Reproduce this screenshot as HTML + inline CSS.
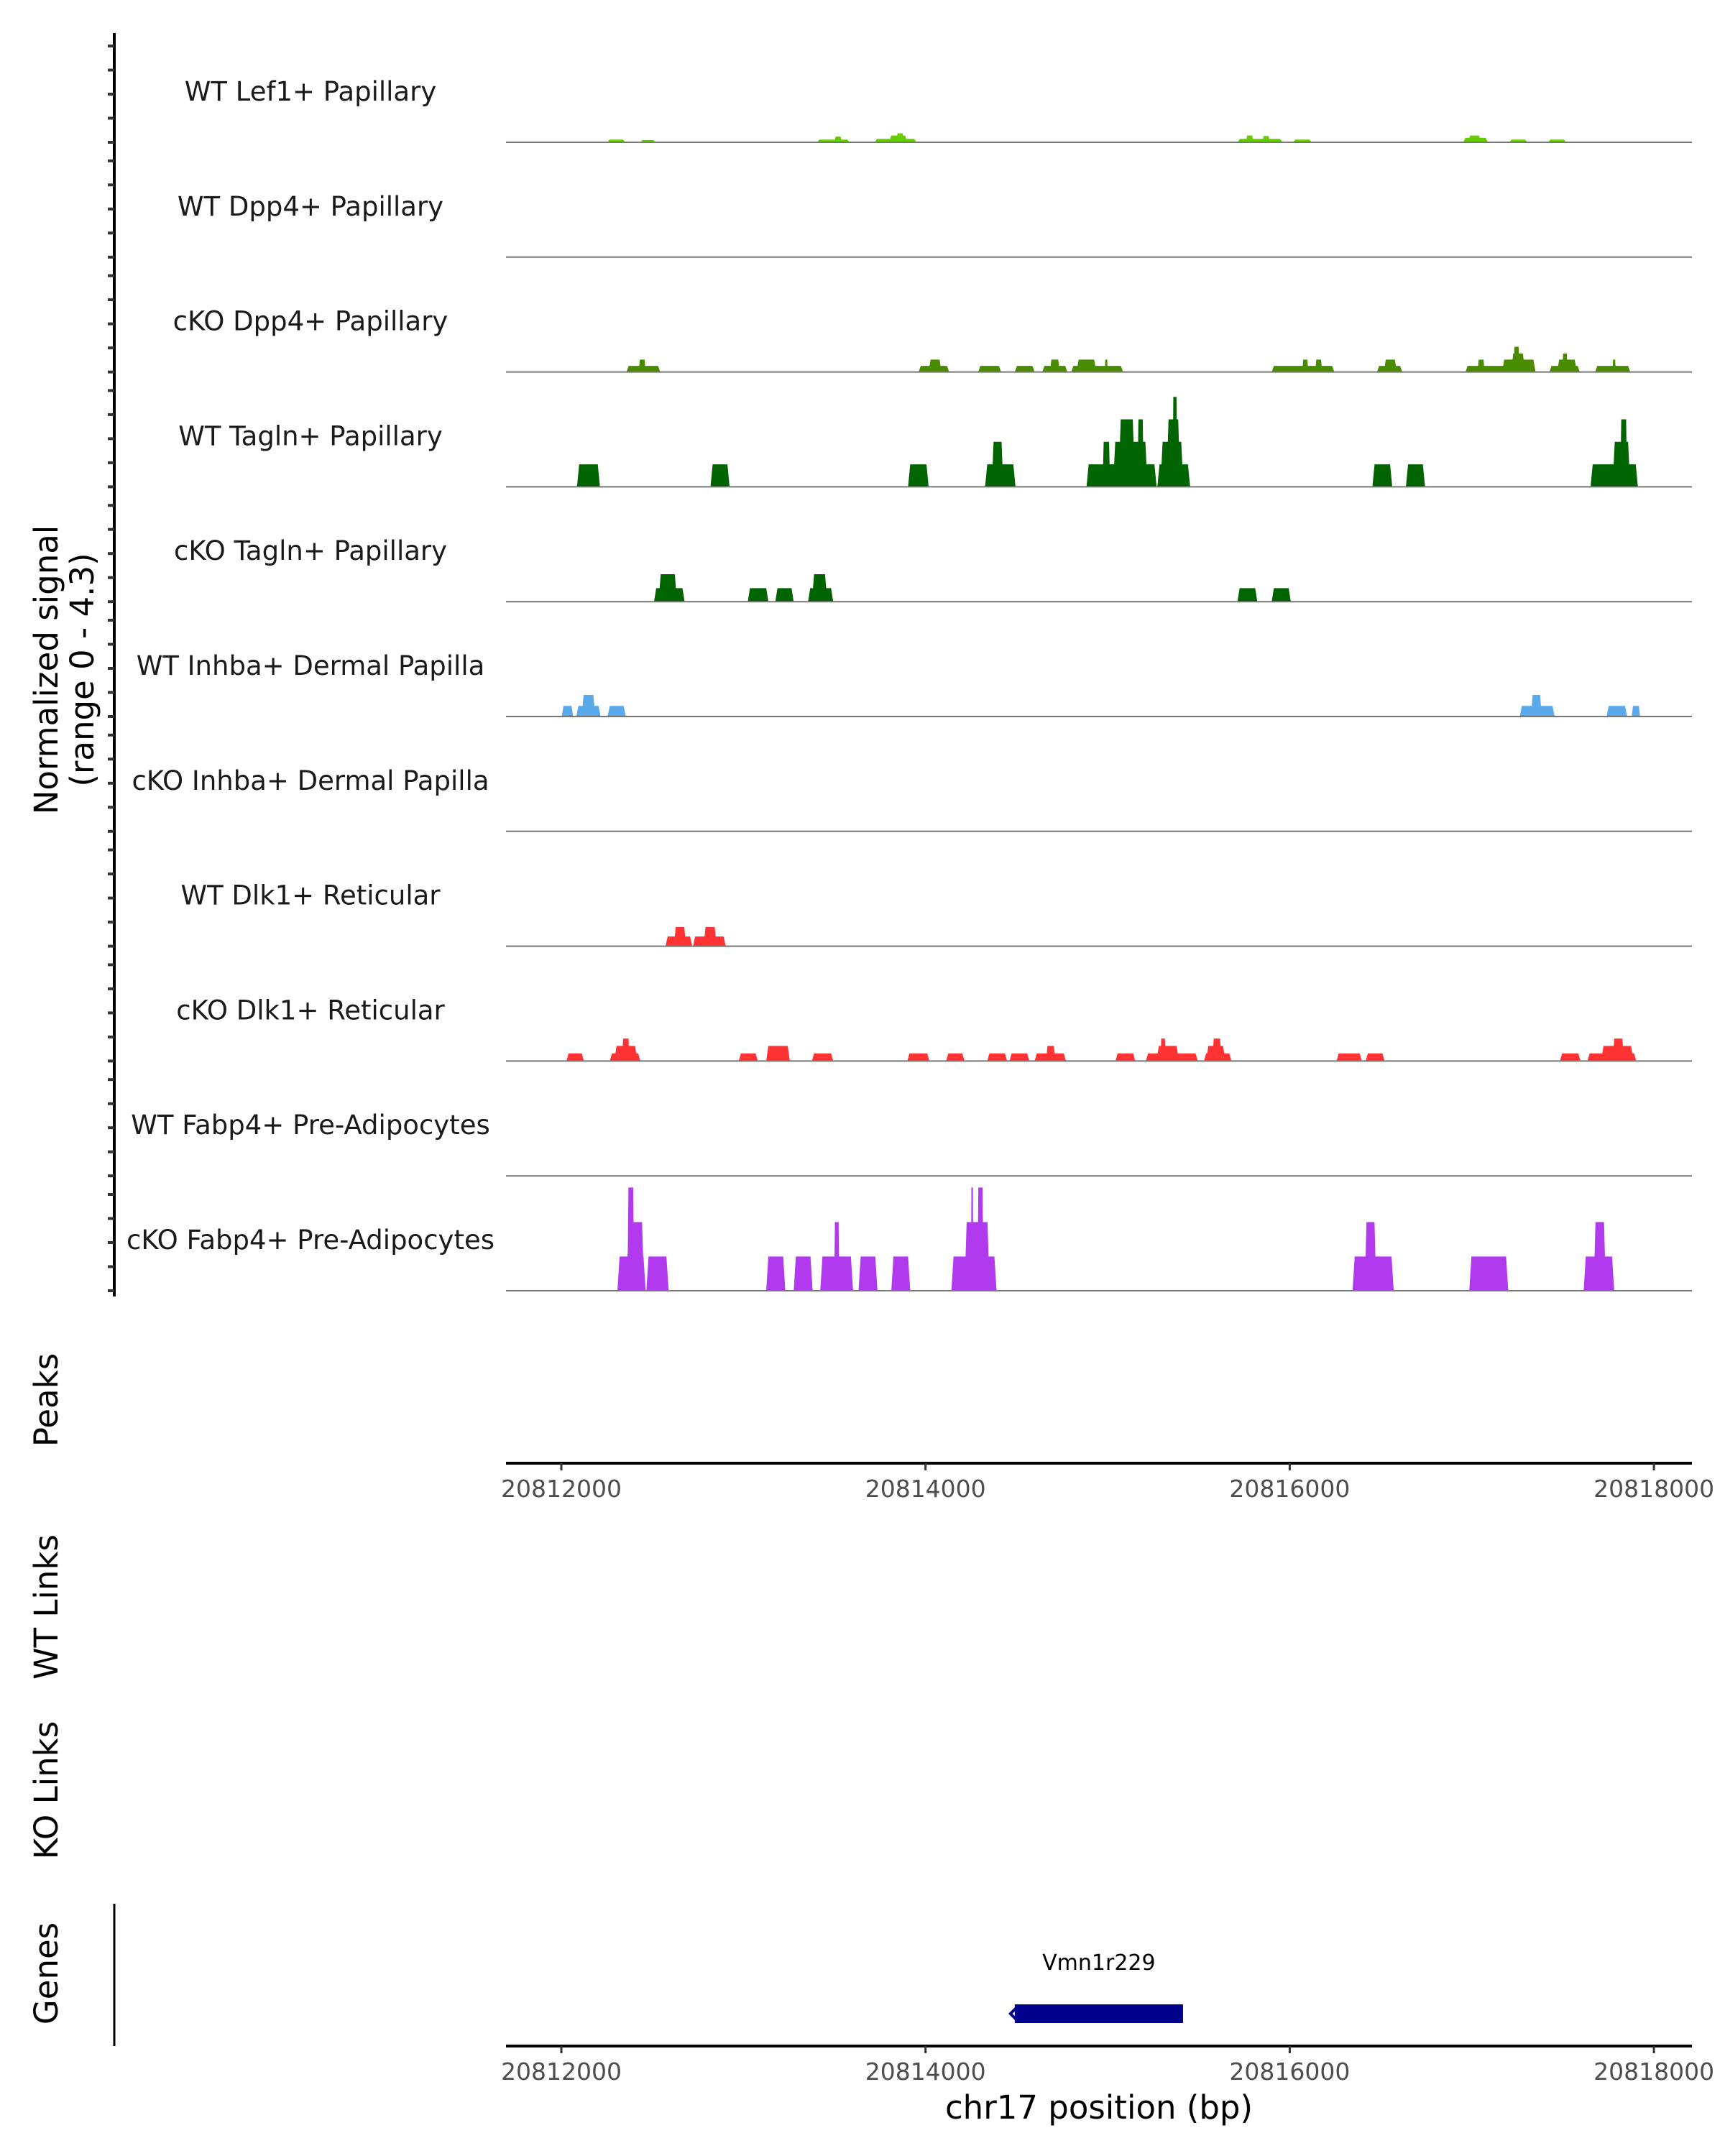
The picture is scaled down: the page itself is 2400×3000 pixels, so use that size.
<!DOCTYPE html>
<html><head><meta charset="utf-8"><style>
html,body{margin:0;padding:0;background:#fff}
svg{display:block;font-family:"DejaVu Sans","Liberation Sans",sans-serif}
</style></head><body>
<svg id="chart" width="2400" height="3000" viewBox="0 0 2400 3000" xmlns="http://www.w3.org/2000/svg">
<g id="tracks"></g>
<line x1="159" y1="46" x2="159" y2="1804" stroke="#000" stroke-width="4"/>
<g id="yticks"></g>
<text transform="translate(80,932) rotate(-90)" text-anchor="middle" font-size="45">Normalized signal</text>
<text transform="translate(130,932) rotate(-90)" text-anchor="middle" font-size="45">(range 0 - 4.3)</text>
<text transform="translate(80,1948) rotate(-90)" text-anchor="middle" font-size="45">Peaks</text>
<text transform="translate(80,2236) rotate(-90)" text-anchor="middle" font-size="45">WT Links</text>
<text transform="translate(80,2491) rotate(-90)" text-anchor="middle" font-size="45">KO Links</text>
<text transform="translate(80,2746) rotate(-90)" text-anchor="middle" font-size="45">Genes</text>
<line x1="159" y1="2649" x2="159" y2="2847" stroke="#000" stroke-width="3"/>
<g id="xaxis1"></g>
<g id="xaxis2"></g>
<g id="genes"></g>
<text x="1529" y="2948" text-anchor="middle" font-size="45">chr17 position (bp)</text>
</svg>
<script>
const REGION_START = 20812000;
const xTicks = [20812000, 20814000, 20816000, 20818000];
const trackNames = ["WT Lef1+ Papillary","WT Dpp4+ Papillary","cKO Dpp4+ Papillary","WT Tagln+ Papillary","cKO Tagln+ Papillary","WT Inhba+ Dermal Papilla","cKO Inhba+ Dermal Papilla","WT Dlk1+ Reticular","cKO Dlk1+ Reticular","WT Fabp4+ Pre-Adipocytes","cKO Fabp4+ Pre-Adipocytes"];
const trackColors = ["#66cc00","#66cc00","#4a8c00","#006400","#006400","#5aaaeb","#5aaaeb","#ff3333","#ff3333","#b23aee","#b23aee"];
// peaks: [startOffsetBp, endOffsetBp, value]
const peaksLef1 = [[253,351,0.12],[434,517,0.1],[1405,1583,0.12],[1500,1540,0.25],[1721,1950,0.15],[1800,1900,0.3],[1840,1880,0.4],[3714,3959,0.15],[3760,3800,0.3],[3850,3890,0.28],[4018,4121,0.12],[4953,5088,0.2],[4980,5050,0.3],[5206,5305,0.12],[5419,5518,0.12]];
const peaksWtDpp4 = [];
const peaksKoDpp4 = [[358,543,0.27],[425,463,0.55],[1962,2130,0.27],[2017,2088,0.55],[2289,2415,0.27],[2490,2599,0.27],[2641,2779,0.27],[2683,2737,0.55],[2800,3085,0.27],[2829,2938,0.55],[2985,3000,0.55],[3901,4245,0.27],[4069,4102,0.55],[4140,4178,0.55],[4479,4618,0.27],[4517,4588,0.55],[4965,5350,0.27],[5032,5070,0.55],[5166,5350,0.55],[5216,5292,0.82],[5229,5262,1.12],[5426,5593,0.27],[5468,5577,0.55],[5497,5526,0.82],[5677,5870,0.27],[5773,5790,0.55]];
const peaksWtTagln = [[86,212,1.0],[819,924,1.0],[1904,2017,1.0],[2327,2494,1.0],[2364,2427,2.0],[2884,3269,1.0],[2972,3014,2.0],[3030,3219,2.0],[3060,3150,3.0],[3164,3198,3.0],[3273,3453,1.0],[3290,3416,2.0],[3323,3399,3.0],[3357,3382,4.0],[4454,4563,1.0],[4638,4743,1.0],[5652,5912,1.0],[5773,5870,2.0],[5815,5853,3.0]];
const peaksKoTagln = [[509,677,0.6],[534,635,1.22],[1024,1137,0.6],[1175,1276,0.6],[1355,1493,0.6],[1376,1460,1.22],[3713,3822,0.6],[3901,4006,0.6]];
const peaksWtInhba = [[2,65,0.47],[82,216,0.47],[111,187,0.96],[254,354,0.47],[5263,5455,0.47],[5325,5384,0.96],[5740,5853,0.47],[5878,5924,0.47]];
const peaksKoInhba = [];
const peaksWtDlk1 = [[572,719,0.43],[618,685,0.85],[723,903,0.43],[781,853,0.85]];
const peaksKoDlk1 = [[28,124,0.34],[266,434,0.34],[291,417,0.67],[333,375,1.0],[974,1079,0.34],[1125,1255,0.67],[1376,1493,0.34],[1900,2021,0.34],[2113,2214,0.34],[2339,2448,0.34],[2461,2570,0.34],[2599,2771,0.34],[2662,2712,0.67],[3043,3152,0.34],[3210,3495,0.34],[3269,3391,0.67],[3290,3319,1.0],[3529,3680,0.34],[3541,3646,0.67],[3575,3625,1.0],[4257,4396,0.34],[4417,4521,0.34],[5484,5597,0.34],[5635,5903,0.34],[5711,5887,0.67],[5773,5836,1.0]];
const peaksWtFabp4 = [];
const peaksKoFabp4 = [[308,463,1.52],[358,455,3.05],[363,400,4.59],[467,589,1.52],[1125,1230,1.52],[1276,1380,1.52],[1422,1602,1.52],[1498,1527,3.05],[1632,1736,1.52],[1812,1916,1.52],[2142,2390,1.52],[2214,2352,3.05],[2250,2262,4.59],[2285,2318,4.59],[4345,4571,1.52],[4412,4475,3.05],[4986,5200,1.52],[5614,5782,1.52],[5669,5736,3.05]];
const allPeaks = [peaksLef1,peaksWtDpp4,peaksKoDpp4,peaksWtTagln,peaksKoTagln,peaksWtInhba,peaksKoInhba,peaksWtDlk1,peaksKoDlk1,peaksWtFabp4,peaksKoFabp4];
const tickValues = [0,1,2,3,4];
const geneName = "Vmn1r229";
const geneStart = 20814490, geneEnd = 20815414;

const NS = "http://www.w3.org/2000/svg";
const X0 = 781, PX_PER_BP = 0.25335;
function xs(bp){ return X0 + (bp - REGION_START) * PX_PER_BP; }
const BASE0 = 198, TRACK_STEP = 159.8, UNIT = 31.3, TICK_UNIT = 33.5;
function baseY(i){ return BASE0 + i * TRACK_STEP; }
function ys(i, v){ return baseY(i) - v * UNIT; }
function mk(tag, attrs, parent){ const e = document.createElementNS(NS, tag); for (const k in attrs) e.setAttribute(k, attrs[k]); parent.appendChild(e); return e; }

const gT = document.getElementById('tracks');
allPeaks.forEach((peaks, i) => {
  const g = mk('g', {}, gT);
  
  
  const lab = mk('text', {x: 432, y: baseY(i) - 58, 'text-anchor': 'middle', 'font-size': 37, fill: '#1a1a1a'}, g);
  
  
  lab.textContent = trackNames[i];
  peaks.forEach(p => {
    const s = xs(REGION_START + p[0]), e = xs(REGION_START + p[1]);
    const w = e - s, r = Math.min(3, w * 0.15);
    const yb = baseY(i), yt = ys(i, p[2]);
    const poly = mk('polygon', {points: `${s},${yb} ${s + r},${yt} ${e - r},${yt} ${e},${yb}`, fill: trackColors[i]}, g);
    
    
  });
  const bl = mk('line', {x1: 704, x2: 2354, y1: baseY(i), y2: baseY(i), stroke: '#777', 'stroke-width': 2}, g);
  
  
});

const gY = document.getElementById('yticks');
allPeaks.forEach((_, i) => {
  tickValues.forEach(t => {
    const y = baseY(i) - t * TICK_UNIT;
    const tk = mk('line', {x1: 150, x2: 159, y1: y, y2: y, stroke: '#333', 'stroke-width': 4}, gY);
    
    
  });
});

function xAxis(id, y){
  const g = document.getElementById(id);
  const ax = mk('line', {x1: 704, x2: 2354, y1: y, y2: y, stroke: '#000', 'stroke-width': 4}, g);
  
  
  xTicks.forEach(t => {
    const x = xs(t);
    const tk = mk('line', {x1: x, x2: x, y1: y, y2: y + 10, stroke: '#333', 'stroke-width': 3}, g);
    
    
    const tl = mk('text', {x: x, y: y + 47, 'text-anchor': 'middle', 'font-size': 33, fill: '#4d4d4d'}, g);
    
    
    tl.textContent = String(t);
  });
}
xAxis('xaxis1', 2036);
xAxis('xaxis2', 2847);

const gG = document.getElementById('genes');
const gb = mk('rect', {x: xs(geneStart), y: 2789, width: xs(geneEnd) - xs(geneStart), height: 26, fill: '#00008b'}, gG);


const ga = mk('path', {d: `M${xs(geneStart) + 4},2792 L${xs(geneStart) - 6},2802 L${xs(geneStart) + 4},2812`, stroke: '#00008b', 'stroke-width': 4, fill: 'none'}, gG);


const gl = mk('text', {x: (xs(geneStart) + xs(geneEnd)) / 2, y: 2741, 'text-anchor': 'middle', 'font-size': 30, fill: '#000'}, gG);


gl.textContent = geneName;
</script>
</body></html>
